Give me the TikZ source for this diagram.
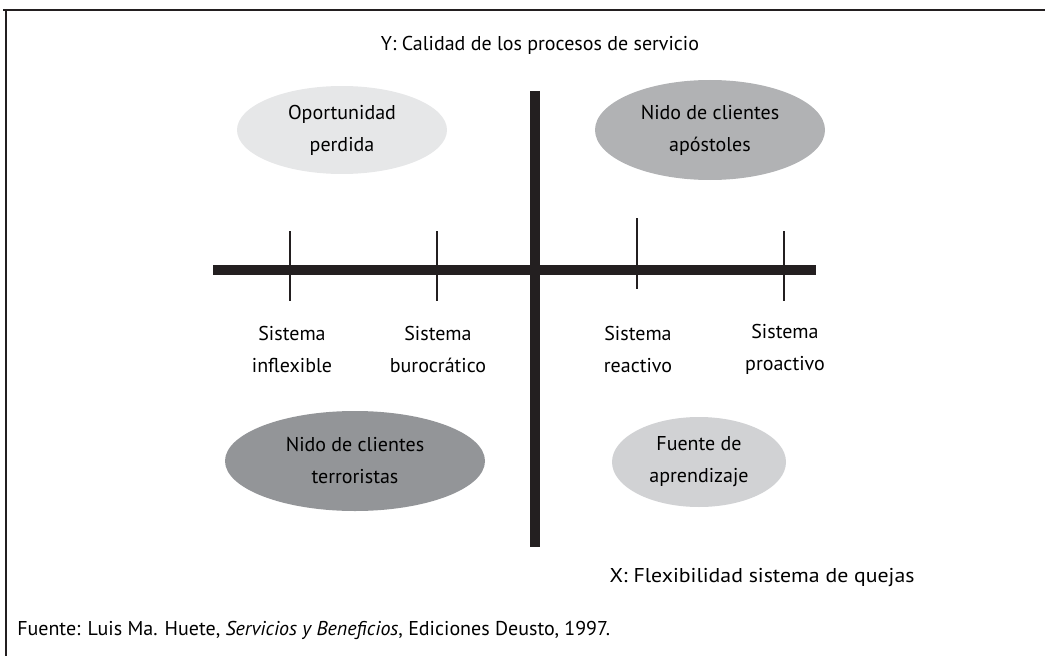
\documentclass[tikz,border=0pt]{standalone}
\usepackage{fontspec}
\setmainfont{PT Sans}
\newfontfamily\widesans[FakeStretch=1.09]{PT Sans}
\usetikzlibrary{shapes.geometric}
\definecolor{ellA}{HTML}{E6E7E8}
\definecolor{ellB}{HTML}{B1B2B4}
\definecolor{ellC}{HTML}{939598}
\definecolor{ellD}{HTML}{D1D2D4}
\definecolor{barc}{HTML}{231F20}
\tikzset{
  bubble/.style={ellipse, inner sep=0pt, align=center, font=\fontsize{15}{24}\selectfont},
  lbl/.style={align=center, inner sep=0pt, font=\fontsize{15}{24}\selectfont},
  axis/.style={draw=barc, line width=7pt},
  tick/.style={draw=barc, line width=1.8pt},
  frame/.style={draw=barc, line width=1.3pt}
}
\begin{document}
\begin{tikzpicture}[x=0.75pt,y=-0.75pt]
\useasboundingbox (0,0) rectangle (1045,656);
% frame
\coordinate (f1) at (3,10);
\coordinate (f2) at (1045,10);
\coordinate (f3) at (6,10);
\coordinate (f4) at (6,656);
\draw[frame] (f1) -- (f2);
\draw[frame] (f3) -- (f4);
% ellipses
\node[bubble, fill=ellA, minimum width=210*0.75pt, minimum height=88*0.75pt] (op) at (342,130) {Oportunidad\\perdida};
\node[bubble, fill=ellB, minimum width=230*0.75pt, minimum height=100*0.75pt] (ap) at (710,130) {Nido de clientes\\apóstoles};
\node[bubble, fill=ellC, minimum width=260*0.75pt, minimum height=100*0.75pt] (te) at (355,461) {Nido de clientes\\terroristas};
\node[bubble, fill=ellD, minimum width=174*0.75pt, minimum height=90*0.75pt] (fu) at (699,462) {Fuente de\\aprendizaje};
% axes
\coordinate (yt) at (535,91);
\coordinate (yb) at (535,547);
\coordinate (xl) at (213,270);
\coordinate (xr) at (816,270);
\draw[axis] (yt) -- (yb);
\draw[axis] (xl) -- (xr);
% ticks
\coordinate (t1a) at (290,231); \coordinate (t1b) at (290,301);
\coordinate (t2a) at (437,231); \coordinate (t2b) at (437,301);
\coordinate (t3a) at (637,218); \coordinate (t3b) at (637,289);
\coordinate (t4a) at (784,231); \coordinate (t4b) at (784,301);
\draw[tick] (t1a) -- (t1b);
\draw[tick] (t2a) -- (t2b);
\draw[tick] (t3a) -- (t3b);
\draw[tick] (t4a) -- (t4b);
% labels
\node[lbl] (l1) at (292,349) {Sistema\\inflexible};
\node[lbl] (l2) at (438,349) {Sistema\\burocrático};
\node[lbl] (l3) at (638,349) {Sistema\\reactivo};
\node[lbl] (l4) at (785,349) {Sistema\\proactivo};
\node[lbl] (ytitle) at (540,45) {Y: Calidad de los procesos de servicio};
\node[lbl, font=\widesans\fontsize{15}{24}\selectfont] (xtitle) at (762,578) {X: Flexibilidad sistema de quejas};
\node[lbl, anchor=west] (src) at (17,630) {Fuente: Luis Ma. Huete, \textit{Servicios y Beneficios}, Ediciones Deusto, 1997.};
\end{tikzpicture}
\end{document}
